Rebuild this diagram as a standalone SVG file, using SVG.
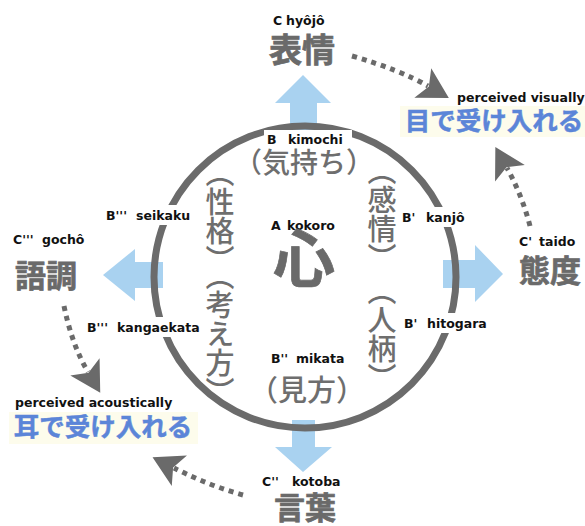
<svg xmlns="http://www.w3.org/2000/svg" width="585" height="526" viewBox="0 0 585 526">
<defs>
<style>
.lbl{font-family:"DejaVu Sans",Verdana,sans-serif;font-weight:bold;font-size:12.5px;fill:#111}
.big{font-family:"Noto Sans CJK JP",sans-serif;font-weight:bold;fill:#6a6a6a;stroke:#6a6a6a;stroke-width:0.7;text-anchor:middle}
.par{font-family:"Noto Sans CJK JP",sans-serif;font-weight:500;fill:#6e6e6e;text-anchor:middle}
.vert{font-family:"Noto Sans CJK JP",sans-serif;font-weight:500;fill:#6e6e6e;font-size:29px;writing-mode:vertical-rl}
.blue{font-family:"Noto Sans CJK JP",sans-serif;font-weight:bold;fill:#5b85d8;stroke:#5b85d8;stroke-width:0.5;font-size:25.5px;text-anchor:middle}
.barrow{fill:#a9d2f0}
.dots{fill:none;stroke:#6a6a6a;stroke-width:5;stroke-dasharray:5 5}
.bg{fill:#ffffff}
</style>
<marker id="head" markerUnits="userSpaceOnUse" markerWidth="44" markerHeight="44" refX="11" refY="22" orient="auto" viewBox="0 0 44 44">
<path d="M35,22 L5,5 L12,22 L5,39 Z" fill="#6a6a6a"/>
</marker>
</defs>
<rect width="585" height="526" fill="#ffffff"/>
<rect x="400" y="106" width="185" height="31" fill="#fdfcec"/>
<rect x="9" y="412" width="189" height="32" fill="#fdfcec"/>

<g id="arrows">
<path class="barrow" d="M290,130 L290,103 L275,103 L303,75 L331,103 L317,103 L317,130 Z"/>
<path class="barrow" d="M443,260 L475,260 L475,245 L503,274 L475,302 L475,288 L443,288 Z"/>
<path class="barrow" d="M163,262 L135,262 L135,249 L103,275 L135,301 L135,288 L163,288 Z"/>
<path class="barrow" d="M292,420 L315,420 L315,447 L332,447 L303,472 L275,447 L292,447 Z"/>
</g>

<g id="center">
<circle cx="305" cy="277" r="151" fill="none" stroke="#6b6b6b" stroke-width="7"/>
<text class="lbl" x="271" y="230">A<tspan x="287">kokoro</tspan></text>
<text class="big" x="304" y="282" font-size="62" stroke-width="1.6">心</text>
</g>

<g id="kimochi">
<rect class="bg" x="264" y="130" width="88" height="19"/>
<text class="lbl" x="267" y="144">B<tspan x="288">kimochi</tspan></text>
<text class="par" x="304" y="173" font-size="28">（気持ち）</text>
</g>
<g id="kanjo">
<rect class="bg" x="400" y="207" width="65" height="20"/>
<text class="lbl" x="402" y="222">B'<tspan x="426">kanjô</tspan></text>
<text class="vert" x="382" y="156">（感情）</text>
</g>
<g id="hitogara">
<rect class="bg" x="402" y="313" width="84" height="20"/>
<text class="lbl" x="404" y="328">B'<tspan x="427">hitogara</tspan></text>
<text class="vert" x="382" y="276">（人柄）</text>
</g>
<g id="seikaku">
<rect class="bg" x="104" y="205" width="89" height="20"/>
<text class="lbl" x="106" y="220">B'''<tspan x="136">seikaku</tspan></text>
<text class="vert" x="220" y="158">（性格）</text>
</g>
<g id="kangaekata">
<rect class="bg" x="85" y="317" width="115" height="20"/>
<text class="lbl" x="87" y="332">B'''<tspan x="117">kangaekata</tspan></text>
<text class="vert" x="220" y="261">（考え方）</text>
</g>
<g id="mikata">
<text class="lbl" x="271" y="363">B''<tspan x="296">mikata</tspan></text>
<text class="par" x="307" y="401" font-size="29">（見方）</text>
</g>

<g id="hyojo">
<text class="lbl" x="273" y="25">C<tspan x="286">hyôjô</tspan></text>
<text class="big" x="302" y="62" font-size="33">表情</text>
</g>
<g id="taido">
<text class="lbl" x="519" y="246">C'<tspan x="539">taido</tspan></text>
<text class="big" x="550" y="282" font-size="31">態度</text>
</g>
<g id="gocho">
<text class="lbl" x="13" y="244">C'''<tspan x="42">gochô</tspan></text>
<text class="big" x="46" y="287" font-size="31">語調</text>
</g>
<g id="kotoba">
<text class="lbl" x="262" y="486">C''<tspan x="292">kotoba</tspan></text>
<text class="big" x="305" y="519" font-size="31">言葉</text>
</g>
<g id="visually">
<text class="lbl" x="457" y="102">perceived visually</text>
<text class="blue" x="494" y="130">目で受け入れる</text>
</g>
<g id="acoustically">
<text class="lbl" x="15" y="407">perceived acoustically</text>
<text class="blue" x="103" y="436">耳で受け入れる</text>
</g>

<g id="connectors">
<path class="dots" d="M352,56 Q400,70 428,86" marker-end="url(#head)"/>
<path class="dots" d="M530,226 Q522,195 507,168" marker-end="url(#head)"/>
<path class="dots" d="M243,495 Q210,486 174,468" marker-end="url(#head)"/>
<path class="dots" d="M64,306 Q72,345 88,372" marker-end="url(#head)"/>
</g>
</svg>
